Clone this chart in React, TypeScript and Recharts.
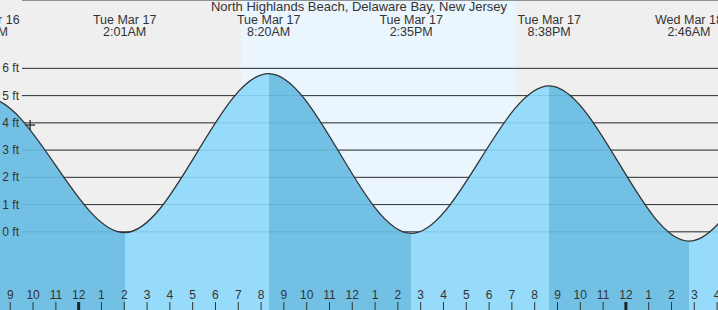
import React from "react";
import {
  AreaChart,
  Area,
  XAxis,
  YAxis,
  CartesianGrid,
  ReferenceArea,
  ReferenceLine,
  ReferenceDot,
} from "recharts";

// tide extremes (hours counted from Mon Mar 16 00:00)
const tideDays = ["Mon Mar 16", "Mon Mar 16", "Tue Mar 17", "Tue Mar 17", "Tue Mar 17", "Tue Mar 17", "Wed Mar 18", "Wed Mar 18", "Wed Mar 18"];
const tideClock = ["1:42PM", "7:57PM", "2:01AM", "8:20AM", "2:35PM", "8:38PM", "2:46AM", "9:05AM", "3:20PM"];
const tideDayIndex = [0, 0, 1, 1, 1, 1, 2, 2, 2];
const tideFeet = [-0.1, 4.92, -0.03, 5.81, -0.06, 5.36, -0.34, 5.6, -0.2];

const feetTicks = [0, 1, 2, 3, 4, 5, 6];
const hourTicks = [21, 22, 23, 24, 25, 26, 27, 28, 29, 30, 31, 32, 33, 34, 35, 36, 37, 38, 39, 40, 41, 42, 43, 44, 45, 46, 47, 48, 49, 50, 51, 52];

const SUNRISE = 31.13; // 7:08AM
const SUNSET = 43.15; // 7:09PM
const NOW_HOUR = 21.87;
const NOW_FEET = 3.92;

const TITLE = "North Highlands Beach, Delaware Bay, New Jersey";

const W = 718;
const H = 310;
const X_MIN = 20.55;
const X_MAX = 52.04;
const Y_MIN = -2.87;
const Y_MAX = 8.51;

const FONT = "'Liberation Sans', Arial, sans-serif";
const TEXT = "#333";
const DARK = "#72c1e5";
const LIGHT = "#97dbfb";

function clockToHour(clock: string, day: number) {
  const m = clock.match(/(\d+):(\d+)(AM|PM)/);
  if (!m) return 0;
  let h = Number(m[1]) % 12;
  if (m[3] === "PM") h += 12;
  return day * 24 + h + Number(m[2]) / 60;
}

const tideHours = tideClock.map((c, i) => clockToHour(c, tideDayIndex[i]));
const data = tideHours.map((t, i) => ({ t, ft: tideFeet[i] }));

const frac = (t: number) => Math.min(1, Math.max(0, (t - X_MIN) / (X_MAX - X_MIN)));

const HourTick = (props: any) => {
  const { x, payload } = props;
  const v = payload.value as number;
  const label = v % 12 === 0 ? 12 : v % 12;
  const midnight = v % 24 === 0;
  return (
    <g>
      <text x={x} y={299} textAnchor="middle" fontSize={12} fontFamily={FONT} fill={TEXT}>
        {label}
      </text>
      <line x1={x} x2={x} y1={302} y2={310} stroke={midnight ? "#222" : TEXT} strokeWidth={midnight ? 3 : 1} />
    </g>
  );
};

const FeetTick = (props: any) => {
  const { y, payload } = props;
  return (
    <text x={19} y={y + 4} textAnchor="end" fontSize={12} fontFamily={FONT} fill={TEXT}>
      {payload.value} ft
    </text>
  );
};

const GridLine = (props: any) => {
  const { x1, x2, y1, y2 } = props;
  return <line key={props.key} x1={x1 + 22} x2={x2} y1={y1} y2={y2} stroke="#333" strokeWidth={1} />;
};

export default function App() {
  return (
    <div style={{ position: "absolute", left: 0, top: 0, width: W, height: H, background: "#efefef", overflow: "hidden" }}>
      <AreaChart width={W} height={H} data={data} margin={{ top: 0, right: 0, bottom: 0, left: 0 }}>
        <defs>
          <linearGradient id="tideFill" gradientUnits="userSpaceOnUse" x1={0} y1={0} x2={W} y2={0}>
            {data.slice(0, -1).flatMap((d, i) => {
              const color = d.ft > data[i + 1].ft ? DARK : LIGHT;
              return [
                <stop key={`a${i}`} offset={frac(d.t)} stopColor={color} />,
                <stop key={`b${i}`} offset={frac(data[i + 1].t)} stopColor={color} />,
              ];
            })}
          </linearGradient>
        </defs>
        <ReferenceArea x1={SUNRISE} x2={SUNSET} fill="#eaf5fe" fillOpacity={1} stroke="none" ifOverflow="visible" zIndex={-200} />
        <CartesianGrid vertical={false} horizontal={GridLine} />
        <XAxis
          type="number"
          dataKey="t"
          domain={[X_MIN, X_MAX]}
          allowDataOverflow
          ticks={hourTicks}
          interval={0}
          mirror
          axisLine={false}
          tickLine={false}
          tick={HourTick}
        />
        <YAxis
          type="number"
          domain={[Y_MIN, Y_MAX]}
          allowDataOverflow
          ticks={feetTicks}
          interval={0}
          mirror
          axisLine={false}
          tickLine={false}
          tick={FeetTick}
        />
        <Area
          type="monotone"
          dataKey="ft"
          stroke="#333"
          strokeWidth={1.3}
          fill="url(#tideFill)"
          fillOpacity={1}
          baseValue={Y_MIN}
          dot={false}
          activeDot={false}
          isAnimationActive={false}
        />
        {feetTicks.map((v) => (
          <ReferenceLine
            key={v}
            segment={[
              { x: X_MIN + 22 / 22.8, y: v },
              { x: X_MAX, y: v },
            ]}
            stroke="#003050"
            strokeOpacity={0.13}
            strokeWidth={1}
          />
        ))}
        {tideHours.map((t, i) =>
          t < X_MIN - 3 || t > X_MAX + 3 ? null : (
            <ReferenceLine
              key={`lbl${i}`}
              x={t}
              stroke="none"
              ifOverflow="visible"
              label={{
                content: (p: any) => (
                  <g>
                    <text x={p.viewBox.x} y={24} textAnchor="middle" fontSize={12.5} fontFamily={FONT} fill={TEXT}>
                      {tideDays[i]}
                    </text>
                    <text x={p.viewBox.x} y={36} textAnchor="middle" fontSize={12.5} fontFamily={FONT} fill={TEXT}>
                      {tideClock[i]}
                    </text>
                  </g>
                ),
              }}
            />
          )
        )}
        <ReferenceDot
          x={NOW_HOUR}
          y={NOW_FEET}
          shape={(p: any) => (
            <g stroke="#333" strokeWidth={1.4}>
              <line x1={p.cx - 5} x2={p.cx + 5} y1={p.cy} y2={p.cy} />
              <line x1={p.cx} x2={p.cx} y1={p.cy - 5} y2={p.cy + 5} />
            </g>
          )}
        />
      </AreaChart>
      <div
        style={{
          position: "absolute",
          left: 0,
          top: 0,
          width: W,
          textAlign: "center",
          fontFamily: FONT,
          fontSize: 13,
          lineHeight: "13px",
          color: TEXT,
          pointerEvents: "none",
        }}
      >
        {TITLE}
      </div>
    </div>
  );
}
